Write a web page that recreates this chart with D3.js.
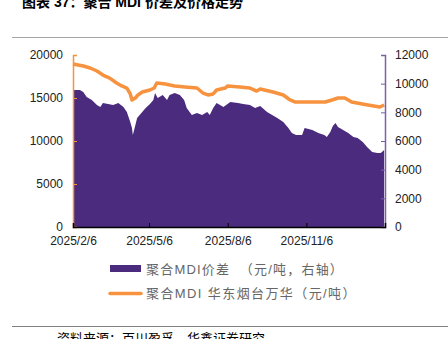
<!DOCTYPE html>
<html><head><meta charset="utf-8">
<script src="https://cdn.jsdelivr.net/npm/d3@7"></script>
<style>body{margin:0;background:#fff}svg{display:block}text{font-family:"Liberation Sans","Noto Sans CJK SC",sans-serif}</style>
</head><body><svg id="c" width="448" height="339"></svg>
<script>
const spreadDates=["2025-02-06","2025-02-14","2025-02-18","2025-02-22","2025-02-28","2025-03-06","2025-03-10","2025-03-13","2025-03-19","2025-03-25","2025-03-31","2025-04-06","2025-04-10","2025-04-14","2025-04-16","2025-04-17","2025-04-20","2025-04-22","2025-04-28","2025-05-02","2025-05-07","2025-05-11","2025-05-13","2025-05-16","2025-05-22","2025-05-27","2025-05-30","2025-06-05","2025-06-11","2025-06-16","2025-06-19","2025-06-25","2025-07-01","2025-07-07","2025-07-13","2025-07-16","2025-07-20","2025-07-24","2025-08-01","2025-08-09","2025-08-18","2025-08-24","2025-09-01","2025-09-07","2025-09-13","2025-09-21","2025-09-27","2025-10-03","2025-10-10","2025-10-16","2025-10-20","2025-10-25","2025-11-01","2025-11-04","2025-11-13","2025-11-20","2025-11-27","2025-11-30","2025-12-04","2025-12-07","2025-12-10","2025-12-13","2025-12-19","2025-12-25","2025-12-31","2026-01-05","2026-01-11","2026-01-16","2026-01-22","2026-01-28","2026-02-01","2026-02-05"];
const spreadValues=[9560,9560,9420,9070,8860,8510,8370,8650,8580,8510,8650,8370,8020,7330,6910,6420,7120,7600,8020,8300,8580,8860,9350,9000,9210,8860,9210,9350,9210,8860,8300,7810,7950,7810,8020,7810,8300,8650,8370,8720,8650,8580,8510,8300,8440,8020,7810,7600,7330,6910,6560,6420,6420,6910,6770,6560,6420,6280,6630,7050,7260,6980,6770,6560,6280,6210,5930,5580,5230,5160,5160,5370];
const priceDates=["2025-02-06","2025-02-18","2025-02-26","2025-03-06","2025-03-13","2025-03-21","2025-03-29","2025-04-04","2025-04-10","2025-04-14","2025-04-16","2025-04-20","2025-04-23","2025-04-28","2025-05-07","2025-05-12","2025-05-15","2025-05-25","2025-06-05","2025-06-17","2025-07-01","2025-07-08","2025-07-14","2025-07-20","2025-07-24","2025-08-03","2025-08-06","2025-08-20","2025-09-01","2025-09-09","2025-09-13","2025-09-28","2025-10-10","2025-10-18","2025-10-24","2025-11-16","2025-11-28","2025-12-06","2025-12-13","2025-12-21","2025-12-29","2026-01-17","2026-01-31","2026-02-05"];
const priceValues=[18950,18720,18490,18140,17670,17320,16740,16400,16160,15470,14770,15000,15350,15700,15930,16160,16740,16630,16400,16280,16160,15580,15350,15470,15930,16160,16400,16280,16160,15810,16050,15700,15350,14770,14530,14530,14530,14770,15000,15000,14530,14190,13950,14190];
const xTicks=["2025-02-06","2025-05-06","2025-08-06","2025-11-06","2026-02-06"];
const xTickLabels=["2025/2/6","2025/5/6","2025/8/6","2025/11/6",""];
const leftTicks=[0,5000,10000,15000,20000];
const rightTicks=[0,2000,4000,6000,8000,10000,12000];
const legendLabels=["聚合MDI价差  （元/吨，右轴）","聚合MDI 华东烟台万华（元/吨）"];

const P=d3.timeParse("%Y-%m-%d");
const svg=d3.select("#c");
const L=73,R=385,T=55,B=227;
const PURPLE="#4a2b7d",ORANGE="#f7923f";
const x=d3.scaleTime().domain([P("2025-02-06"),P("2026-02-06")]).range([L,R]);
const yl=d3.scaleLinear().domain([0,20000]).range([B,T]);
const yr=d3.scaleLinear().domain([0,12000]).range([B,T]);

svg.append("text").attr("x",22).attr("y",7).attr("font-size",14).attr("font-weight","bold").attr("fill","#000")
  .attr("font-family","'Noto Sans CJK SC',sans-serif").text("图表 37：聚合 MDI 价差及价格走势");
svg.append("line").attr("x1",12).attr("x2",448).attr("y1",37.5).attr("y2",37.5).attr("stroke","#a6a6a6").attr("stroke-width",1.2);
svg.append("line").attr("x1",12).attr("x2",448).attr("y1",326.5).attr("y2",326.5).attr("stroke","#808080").attr("stroke-width",1);
svg.append("text").attr("x",57).attr("y",343).attr("font-size",13).attr("fill","#000")
  .attr("font-family","'Noto Sans CJK SC',sans-serif").text("资料来源：百川盈孚，华鑫证券研究");

const sd=spreadDates.map((d,i)=>({d:P(d),v:spreadValues[i]}));
const pd=priceDates.map((d,i)=>({d:P(d),v:priceValues[i]}));
svg.append("path").datum(sd).attr("fill",PURPLE)
  .attr("d",d3.area().x(d=>x(d.d)).y0(B).y1(d=>yr(d.v)));
svg.append("path").datum(pd).attr("fill","none").attr("stroke",ORANGE).attr("stroke-width",3.5).attr("stroke-linejoin","round")
  .attr("d",d3.line().x(d=>x(d.d)).y(d=>yl(d.v)));

const fmt=d3.format("d");
const ga=svg.append("g").attr("transform",`translate(${L},0)`).call(d3.axisLeft(yl).tickValues(leftTicks).tickSize(-4).tickPadding(10).tickFormat(fmt));
ga.select(".domain").attr("stroke",ORANGE).attr("stroke-width",1.5);
ga.selectAll(".tick line").attr("stroke",ORANGE);
ga.selectAll("text").attr("font-size",12).attr("fill","#222").attr("font-family","Liberation Sans, sans-serif");
const gr=svg.append("g").attr("transform",`translate(${R},0)`).call(d3.axisRight(yr).tickValues(rightTicks).tickSize(-4).tickPadding(10).tickFormat(fmt));
gr.select(".domain").attr("stroke","#7b5fad").attr("stroke-width",1.5);
gr.selectAll(".tick line").attr("stroke","#7b5fad");
gr.selectAll("text").attr("font-size",12).attr("fill","#222").attr("font-family","Liberation Sans, sans-serif");
const gb=svg.append("g").attr("transform",`translate(0,${B})`).call(d3.axisBottom(x).tickValues(xTicks.map(P)).tickSize(-4).tickPadding(9).tickFormat((d,i)=>xTickLabels[i]));
gb.select(".domain").attr("stroke","#000").attr("stroke-width",1.5);
gb.selectAll(".tick line").attr("stroke","#000");
gb.selectAll("text").attr("font-size",12).attr("fill","#222").attr("font-family","Liberation Sans, sans-serif");

svg.append("rect").attr("x",110).attr("y",265).attr("width",31).attr("height",7).attr("fill",PURPLE);
svg.append("line").attr("x1",110).attr("x2",141).attr("y1",293.5).attr("y2",293.5).attr("stroke",ORANGE).attr("stroke-width",3.5).attr("stroke-linecap","round");
svg.append("text").attr("x",146).attr("y",274).attr("font-size",13).attr("letter-spacing",1.2).attr("fill","#666").attr("font-family","'Noto Sans CJK SC',sans-serif").attr("xml:space","preserve").style("white-space","pre").text(legendLabels[0]);
svg.append("text").attr("x",146).attr("y",298).attr("font-size",13).attr("letter-spacing",1.4).attr("fill","#666").attr("font-family","'Noto Sans CJK SC',sans-serif").text(legendLabels[1]);
</script></body></html>
